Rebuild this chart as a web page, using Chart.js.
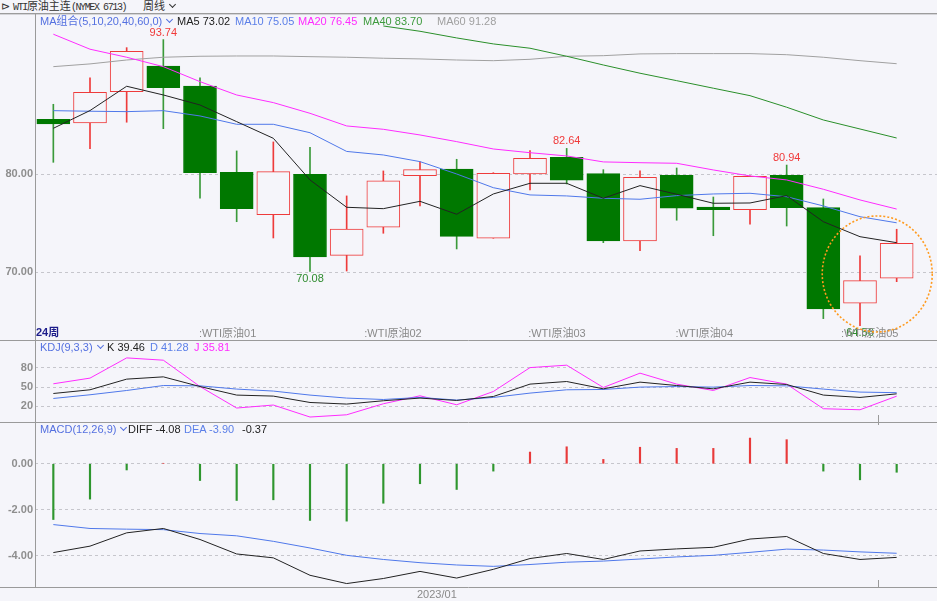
<!DOCTYPE html>
<html>
<head>
<meta charset="utf-8">
<script src="https://cdn.jsdelivr.net/npm/chart.js@4.4.1/dist/chart.umd.min.js"></script>
<style>
    body { margin: 0; width: 937px; height: 601px; overflow: hidden; position: relative; background: #f5f5fa;
           font-family: "Liberation Sans", "Noto Sans CJK SC", sans-serif; }
    canvas { position: absolute; left: 0; }
    .t { position: absolute; white-space: nowrap; font-size: 11px; line-height: 12px; }
    .chev { display: inline-block; width: 4px; height: 4px; border-right: 1.3px solid; border-bottom: 1.3px solid;
            transform: rotate(45deg); margin: 0 2px 3px 5px; }
    .mono { font-family: "Liberation Mono", monospace; font-size: 10px; letter-spacing: -1.4px; }
</style>
</head>
<body>
<div class="t" style="left:1px;top:0px;color:#333;">⊳ <span class="mono">WTI</span>原油主连<span class="mono">(NYMEX 6713)</span></div>
<div class="t" style="left:143px;top:0px;color:#333;">周线<i class="chev"></i></div>
<div style="position:absolute;left:0;top:13px;width:937px;height:1px;background:#9c9c9c;"></div>
<div style="position:absolute;left:0;top:14px;width:937px;height:1px;background:#d4d4d8;"></div>

<canvas id="mainChart" width="937" height="326" style="top:14px"></canvas>
<canvas id="kdjChart" width="937" height="82" style="top:340px"></canvas>
<canvas id="macdChart" width="937" height="179" style="top:422px"></canvas>

<div class="t" style="left:40px;top:15px;color:#5470e0;">MA组合(5,10,20,40,60,0)<i class="chev"></i></div>
<div class="t" style="left:177px;top:15px;color:#222;">MA5 73.02</div>
<div class="t" style="left:235px;top:15px;color:#5b7fe8;">MA10 75.05</div>
<div class="t" style="left:298px;top:15px;color:#ff2cff;">MA20 76.45</div>
<div class="t" style="left:363px;top:15px;color:#3d9a3d;">MA40 83.70</div>
<div class="t" style="left:437px;top:15px;color:#a0a0a0;">MA60 91.28</div>

<div class="t" style="left:40px;top:341px;color:#5470e0;">KDJ(9,3,3)<i class="chev"></i></div>
<div class="t" style="left:107px;top:341px;color:#222;">K 39.46</div>
<div class="t" style="left:150px;top:341px;color:#5b7fe8;">D 41.28</div>
<div class="t" style="left:194px;top:341px;color:#ff2cff;">J 35.81</div>

<div class="t" style="left:40px;top:423px;color:#5470e0;">MACD(12,26,9)<i class="chev"></i></div>
<div class="t" style="left:128px;top:423px;color:#222;">DIFF -4.08</div>
<div class="t" style="left:184px;top:423px;color:#5b7fe8;">DEA -3.90</div>
<div class="t" style="left:242px;top:423px;color:#222;">-0.37</div>

<script>
        // 주봉 시세 (24주)
        const opens  = [85.60, 85.23, 88.43, 91.05, 89.01, 80.20, 75.88, 80.00, 71.73, 74.59, 79.86, 80.54,
                        73.47, 80.03, 81.73, 80.06, 73.19, 79.90, 76.66, 76.39, 79.90, 76.59, 66.84, 69.39];
        const highs  = [87.14, 89.83, 92.92, 93.74, 89.83, 82.38, 83.30, 82.76, 77.79, 80.34, 81.26, 81.53,
                        80.16, 82.41, 82.64, 80.47, 80.34, 80.64, 77.68, 79.85, 80.94, 77.48, 71.69, 74.39];
        const lows   = [81.22, 82.61, 85.31, 84.65, 77.55, 75.16, 73.50, 70.08, 70.13, 73.98, 76.77, 72.38,
                        73.47, 78.40, 79.01, 73.02, 72.20, 75.31, 73.73, 74.90, 74.72, 65.27, 64.56, 69.04];
        const closes = [85.13, 88.37, 92.55, 88.84, 80.16, 76.49, 80.27, 71.56, 74.42, 79.32, 80.47, 73.67,
                        80.10, 81.63, 79.39, 73.19, 79.69, 76.53, 76.39, 79.80, 76.59, 66.26, 69.14, 72.96];

        // 이동평균
        const ma5  = [84.69, 86.50, 88.98, 88.09, 87.07, 85.37, 83.67, 79.42, 76.63, 76.49, 77.24, 75.92,
                      77.99, 79.08, 79.08, 77.55, 78.84, 77.96, 77.04, 77.07, 77.82, 75.16, 73.63, 73.02];
        const ma10 = [86.49, 86.43, 86.39, 86.49, 85.95, 85.10, 85.10, 84.24, 82.33, 81.97, 81.29, 80.03,
                      78.63, 77.89, 77.79, 77.55, 77.45, 77.82, 77.99, 78.06, 77.71, 76.77, 75.67, 75.05];
        const ma20 = [94.29, 92.76, 91.94, 90.98, 89.45, 88.09, 87.31, 86.22, 84.93, 84.59, 84.01, 83.33,
                      82.58, 82.20, 81.87, 81.26, 81.18, 81.12, 80.44, 79.83, 79.42, 78.47, 77.38, 76.45];
        const ma40 = [null, null, null, null, null, null, null, null, null, 95.13, 94.59, 93.91,
                      93.30, 92.86, 92.04, 91.15, 90.31, 89.55, 88.78, 88.02, 86.84, 85.54, 84.62, 83.70];
        const ma60 = [90.98, 91.26, 91.66, 91.94, 92.04, 92.07, 92.07, 92.00, 91.94, 91.84, 91.77, 91.66,
                      91.59, 91.73, 92.04, 92.10, 92.28, 92.31, 92.31, 92.31, 92.20, 91.94, 91.59, 91.28];

        // KDJ
        const kLine = [40.0, 45.8, 62.5, 66.1, 50.9, 37.5, 35.9, 25.9, 23.4, 28.6, 32.8, 29.1,
                       35.3, 54.7, 58.8, 47.3, 57.8, 52.5, 47.3, 57.8, 54.1, 37.5, 33.8, 39.46];
        const dLine = [32.2, 38.0, 44.7, 52.5, 52.0, 46.9, 43.8, 37.5, 32.8, 30.6, 33.8, 29.7,
                       33.8, 40.6, 45.8, 46.3, 50.0, 50.9, 50.0, 52.5, 52.0, 46.9, 42.2, 41.28];
        const jLine = [55.2, 64.1, 95.8, 92.2, 50.9, 17.2, 21.9, 3.1, 6.6, 23.9, 36.4, 22.3,
                       43.1, 80.6, 84.4, 49.4, 71.9, 54.7, 44.7, 65.0, 54.7, 16.1, 14.5, 35.81];

        // MACD
        const macdHist = [-2.43, -1.54, -0.27, 0.02, -0.73, -1.60, -1.57, -2.47, -2.50, -1.72, -0.87, -1.12,
                          -0.32, 0.51, 0.74, 0.19, 0.72, 0.67, 0.67, 1.12, 1.05, -0.32, -0.70, -0.37];
        const diffLine = [-3.87, -3.59, -3.01, -2.82, -3.30, -3.93, -4.10, -4.86, -5.22, -5.00, -4.69, -4.98,
                          -4.60, -4.13, -3.91, -4.17, -3.80, -3.71, -3.64, -3.28, -3.17, -3.91, -4.17, -4.08];
        const deaLine  = [-2.65, -2.82, -2.85, -2.87, -3.04, -3.14, -3.38, -3.67, -3.99, -4.17, -4.31, -4.41,
                          -4.47, -4.39, -4.29, -4.24, -4.15, -4.06, -3.99, -3.86, -3.72, -3.76, -3.84, -3.90];

        // 축 라벨
        const monthLabels = ['WTI原油01', 'WTI原油02', 'WTI原油03', 'WTI原油04', 'WTI原油05'];
        const monthPos = [3.97, 8.48, 12.95, 16.97, 21.48];
        const dateLabel = '2023/01';
        const datePos = 10.46;
        const markPos = 22.49;
        const highMarks = [3, 14, 20];
        const lowMarks = [7, 22];
        const mainTicks = [70, 80];
        const kdjTicks = [20, 50, 80];
        const macdTicks = [-4, -2, 0];

        const BG = '#f5f5fa';
        const UP = '#ee3b3b';
        const DOWN = '#007800';
        const FONT = '"Liberation Sans", "Noto Sans CJK SC", sans-serif';

        Chart.defaults.font.family = FONT;
        Chart.defaults.animation = false;

        const pts = arr => arr.map((v, i) => ({ x: i, y: v }));

        function lineSet(arr, color, order) {
            return {
                type: 'line', data: pts(arr), borderColor: color, borderWidth: 1,
                pointRadius: 0, tension: 0, fill: false, order: order || 0
            };
        }

        function xAxis() {
            return { type: 'linear', min: -0.5, max: 24.1, offset: false, display: false };
        }

        function yAxis(min, max, ticks, fmt) {
            return {
                type: 'linear', min: min, max: max, bounds: 'data',
                afterBuildTicks: s => { s.ticks = ticks.map(v => ({ value: v })); },
                afterFit: s => {
                    s.width = 35;
                    s.paddingTop = 0;
                    s.paddingBottom = 0;
                },
                ticks: {
                    color: '#8e8e8e', padding: 2, callback: fmt,
                    font: { size: 11, weight: 'bold', family: FONT }
                },
                grid: { color: '#c6c6cc', lineWidth: 1, drawTicks: false, borderDash: [3, 3] },
                border: { display: false, dash: [3, 3] }
            };
        }

        // 패널 테두리
        function framePlugin(top, bottom) {
            return {
                id: 'frame',
                afterDraw(chart) {
                    const ctx = chart.ctx;
                    const a = chart.chartArea;
                    ctx.save();
                    ctx.strokeStyle = '#9a9a9a';
                    ctx.lineWidth = 1;
                    ctx.beginPath();
                    ctx.moveTo(a.left + 0.5, 0);
                    ctx.lineTo(a.left + 0.5, bottom ? a.bottom : chart.height);
                    if (top) { ctx.moveTo(0, 0.5); ctx.lineTo(chart.width, 0.5); }
                    if (bottom) { ctx.moveTo(0, a.bottom + 0.5); ctx.lineTo(chart.width, a.bottom + 0.5); }
                    ctx.stroke();
                    ctx.restore();
                }
            };
        }

        function tickMark(chart, y1, y2) {
            const ctx = chart.ctx;
            const px = Math.round(chart.scales.x.getPixelForValue(markPos)) + 0.5;
            ctx.save();
            ctx.strokeStyle = '#9a9a9a';
            ctx.beginPath();
            ctx.moveTo(px, y1);
            ctx.lineTo(px, y2);
            ctx.stroke();
            ctx.restore();
        }

        // 메인 캔들 차트
        const candleMarks = {
            id: 'candleMarks',
            afterDatasetsDraw(chart) {
                const ctx = chart.ctx;
                const xs = chart.scales.x;
                const ys = chart.scales.y;
                const a = chart.chartArea;
                ctx.save();
                ctx.font = '11px ' + FONT;
                ctx.textAlign = 'center';
                ctx.textBaseline = 'middle';
                ctx.fillStyle = '#f03a3a';
                highMarks.forEach(i => {
                    ctx.fillText(highs[i].toFixed(2), xs.getPixelForValue(i), ys.getPixelForValue(highs[i]) - 7);
                });
                ctx.fillStyle = '#2e8b2e';
                lowMarks.forEach(i => {
                    ctx.fillText(lows[i].toFixed(2), xs.getPixelForValue(i), ys.getPixelForValue(lows[i]) + 7);
                });

                // x축 라벨
                const ly = a.bottom - 6;
                ctx.textAlign = 'left';
                ctx.fillStyle = '#8a8a8a';
                monthLabels.forEach((t, k) => {
                    ctx.fillText(':' + t, xs.getPixelForValue(monthPos[k]), ly);
                });
                ctx.fillStyle = '#1c1c8a';
                ctx.font = 'bold 11px ' + FONT;
                ctx.fillText('24周', a.left + 1, ly - 1);

                // 주황 원
                ctx.strokeStyle = '#ff9a1e';
                ctx.lineWidth = 1.6;
                ctx.setLineDash([2, 2]);
                ctx.beginPath();
                ctx.ellipse(xs.getPixelForValue(22.47), ys.getPixelForValue(69.83), 55, 58, 0, 0, Math.PI * 2);
                ctx.stroke();
                ctx.restore();
            }
        };

        const candleColors = opens.map((o, i) => closes[i] >= o);

        new Chart(document.getElementById('mainChart'), {
            type: 'bar',
            data: {
                datasets: [
                    lineSet(ma5, '#222222'),
                    lineSet(ma10, '#4f78ea'),
                    lineSet(ma20, '#ff2cff'),
                    lineSet(ma40, '#2a8f2a'),
                    lineSet(ma60, '#a0a0a0'),
                    {
                        type: 'bar', order: 1, grouped: false,
                        data: opens.map((o, i) => ({ x: i, y: [o, closes[i]] })),
                        barThickness: 33, borderWidth: 1, borderSkipped: false,
                        backgroundColor: candleColors.map(up => up ? BG : DOWN),
                        borderColor: candleColors.map(up => up ? UP : DOWN)
                    },
                    {
                        type: 'bar', order: 2, grouped: false,
                        data: lows.map((l, i) => ({ x: i, y: [l, highs[i]] })),
                        barThickness: 1, borderWidth: 0,
                        backgroundColor: candleColors.map(up => up ? UP : '#3a9a3a')
                    }
                ]
            },
            options: {
                responsive: false, devicePixelRatio: 1, events: [],
                layout: { padding: { top: 11, bottom: 0, left: 0, right: 0 } },
                plugins: { legend: { display: false }, tooltip: { enabled: false } },
                scales: {
                    x: xAxis(),
                    y: yAxis(63.09, 95.23, mainTicks, v => v.toFixed(2))
                }
            },
            plugins: [candleMarks, framePlugin(false, false)]
        });

        // KDJ
        new Chart(document.getElementById('kdjChart'), {
            type: 'line',
            data: {
                datasets: [
                    lineSet(jLine, '#ff2cff', 2),
                    lineSet(dLine, '#4f78ea', 1),
                    lineSet(kLine, '#222222', 0)
                ]
            },
            options: {
                responsive: false, devicePixelRatio: 1, events: [],
                layout: { padding: { top: 1, bottom: 0, left: 0, right: 0 } },
                plugins: { legend: { display: false }, tooltip: { enabled: false } },
                scales: {
                    x: xAxis(),
                    y: yAxis(-4.7, 122.3, kdjTicks, v => String(v))
                }
            },
            plugins: [framePlugin(true, false), {
                id: 'kdjMark',
                afterDraw(chart) { tickMark(chart, chart.height - 7, chart.height); }
            }]
        });

        // MACD
        new Chart(document.getElementById('macdChart'), {
            type: 'bar',
            data: {
                datasets: [
                    lineSet(diffLine, '#222222', 0),
                    lineSet(deaLine, '#4f78ea', 0),
                    {
                        type: 'bar', order: 1, grouped: false,
                        data: pts(macdHist),
                        barThickness: 1.5, borderWidth: 0,
                        backgroundColor: macdHist.map(v => v >= 0 ? '#e83a3a' : '#2e962e')
                    }
                ]
            },
            options: {
                responsive: false, devicePixelRatio: 1, events: [],
                layout: { padding: { top: 0, bottom: 14, left: 0, right: 0 } },
                plugins: { legend: { display: false }, tooltip: { enabled: false } },
                scales: {
                    x: xAxis(),
                    y: yAxis(-5.37, 1.82, macdTicks, v => v.toFixed(2))
                }
            },
            plugins: [framePlugin(true, true), {
                id: 'macdAxis',
                afterDraw(chart) {
                    const ctx = chart.ctx;
                    const a = chart.chartArea;
                    tickMark(chart, 0, 3);
                    tickMark(chart, a.bottom - 7, a.bottom);
                    ctx.save();
                    ctx.font = '11px ' + FONT;
                    ctx.fillStyle = '#8a8a8a';
                    ctx.textAlign = 'center';
                    ctx.textBaseline = 'middle';
                    ctx.fillText(dateLabel, chart.scales.x.getPixelForValue(datePos), a.bottom + 7.5);
                    ctx.restore();
                }
            }]
        });
</script>
</body>
</html>
